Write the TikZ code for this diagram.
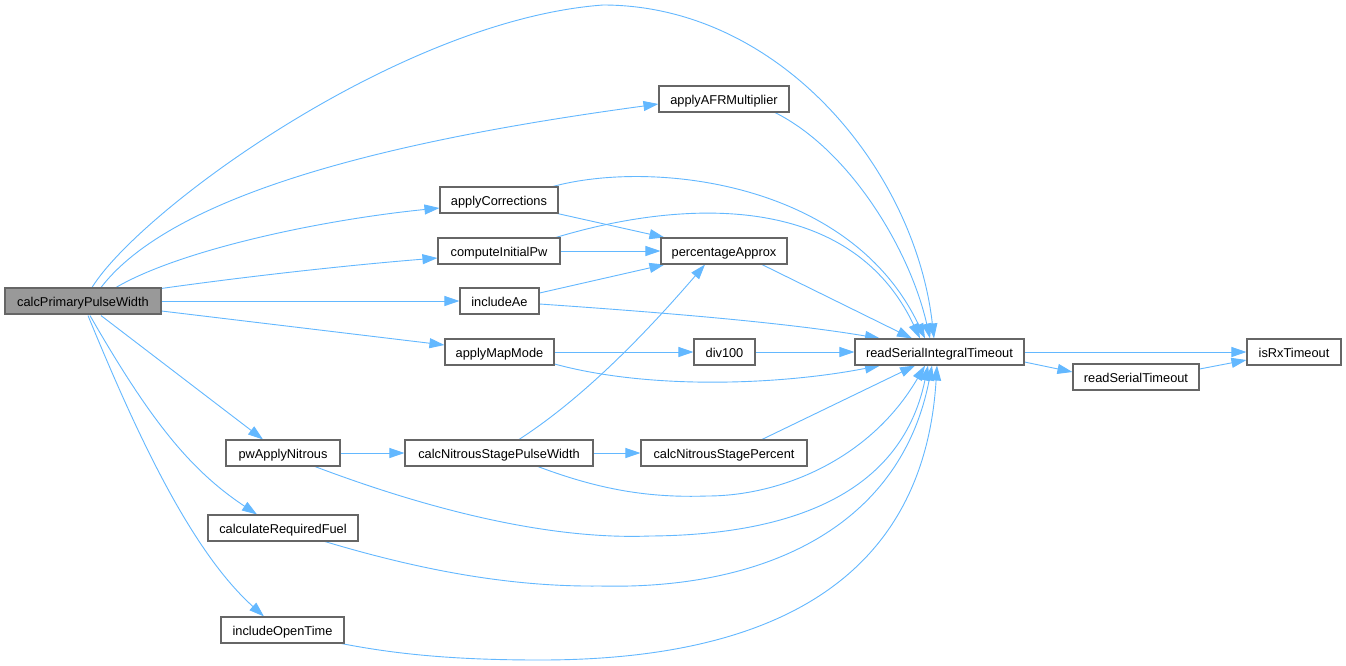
\documentclass[tikz,border=0pt]{standalone}
\usepackage{fontspec}
\setmainfont{Liberation Sans}
\usetikzlibrary{arrows.meta,calc}
\pgfdeclarelayer{bg}
\pgfsetlayers{bg,main}
\definecolor{edgec}{HTML}{63B8FF}
\definecolor{bordc}{HTML}{666666}
\definecolor{rootc}{HTML}{999999}
\begin{document}
\begin{tikzpicture}[x=1pt,y=-1pt,
  fn/.style={draw=bordc,fill=white,line width=1.1pt,minimum height=26pt,inner sep=0pt,text height=11pt,text depth=0pt,font=\fontsize{12.8}{15}\selectfont},
  call/.style={draw=edgec,line width=0.9pt,-{Triangle[length=15pt,width=10pt]}}]
\useasboundingbox (0,0) rectangle (1346,665);
% nodes
\node[fn,minimum width=156pt,fill=rootc] (cppw) at (83,301) {calcPrimaryPulseWidth};
\node[fn,minimum width=130pt] (afr) at (724,99) {applyAFRMultiplier};
\node[fn,minimum width=118pt] (corr) at (499,200) {applyCorrections};
\node[fn,minimum width=122pt] (cipw) at (499,251) {computeInitialPw};
\node[fn,minimum width=126pt] (pa) at (724,251) {percentageApprox};
\node[fn,minimum width=79pt] (ae) at (499.5,301) {includeAe};
\node[fn,minimum width=109pt] (amm) at (499.5,352) {applyMapMode};
\node[fn,minimum width=61pt] (div) at (724.5,352) {div100};
\node[fn,minimum width=169pt] (rsit) at (939.5,352) {readSerialIntegralTimeout};
\node[fn,minimum width=94pt] (isrx) at (1294,352) {isRxTimeout};
\node[fn,minimum width=126pt] (rst) at (1136,377) {readSerialTimeout};
\node[fn,minimum width=114pt] (pwan) at (283,453) {pwApplyNitrous};
\node[fn,minimum width=188pt] (cnspw) at (499,453) {calcNitrousStagePulseWidth};
\node[fn,minimum width=166pt] (cnsp) at (724,453) {calcNitrousStagePercent};
\node[fn,minimum width=150pt] (crf) at (283,528) {calculateRequiredFuel};
\node[fn,minimum width=123pt] (iot) at (282.5,630) {includeOpenTime};
% edges
\begin{pgfonlayer}{bg}
\fill[white] (0,0) rectangle (1346,665);
% from calcPrimaryPulseWidth
\draw[call] ($(cppw.north)+(9,0)$) .. controls (140,210) and (400,20) .. (603,5)
  .. controls (780,5) and (915,170) .. ($(rsit.north)+(-5.5,0)$);
\draw[call] ($(cppw.north)+(18,0)$) .. controls (180,185) and (430,135) .. ($(afr.west)+(0,5)$);
\draw[call] ($(cppw.north)+(33,0)$) .. controls (180,250) and (320,220) .. ($(corr.west)+(0,8)$);
\draw[call] ($(cppw.north east)+(0,1)$) .. controls (250,276) and (350,265) .. ($(cipw.west)+(0,7)$);
\draw[call] (cppw.east) -- (ae.west);
\draw[call] ($(cppw.east)+(0,10)$) -- ($(amm.west)+(0,-7)$);
\draw[call] ($(cppw.south)+(18,1)$) -- ($(pwan.north)+(-20,0)$);
\draw[call] ($(cppw.south)+(7,1)$) .. controls (150,420) and (190,470) .. ($(crf.north)+(-26,0)$);
\draw[call] ($(cppw.south)+(5,1)$) .. controls (135,430) and (190,550) .. ($(iot.north)+(-18.5,0)$);
% second column
\draw[call] ($(afr.south)+(51,0)$) .. controls (850,150) and (910,250) .. ($(rsit.north)+(-9.5,0)$);
\draw[call] ($(corr.north)+(54,0)$) .. controls (650,160) and (850,180) .. ($(rsit.north)+(-14.5,0)$);
\draw[call] ($(corr.south east)+(-1,0)$) -- ($(pa.north west)+(4,0)$);
\draw[call] ($(cipw.north)+(57,0)$) .. controls (680,200) and (850,190) .. ($(rsit.north)+(-19.5,0)$);
\draw[call] (cipw.east) -- (pa.west);
\draw[call] ($(ae.east)+(0,-8)$) -- ($(pa.south west)+(4,0)$);
\draw[call] ($(ae.east)+(0,3)$) .. controls (700,315) and (800,325) .. ($(rsit.north)+(-59.5,0)$);
\draw[call] ($(pa.south)+(38,0)$) -- ($(rsit.north)+(-27.5,0)$);
\draw[call] (amm.east) -- (div.west);
\draw[call] ($(amm.east)+(0,12)$) .. controls (650,390) and (780,385) .. ($(rsit.south)+(-59.5,0)$);
\draw[call] (div.east) -- (rsit.west);
\draw[call] (rsit.east) -- (isrx.west);
\draw[call] ($(rsit.east)+(0,10)$) -- ($(rst.west)+(0,-5)$);
\draw[call] ($(rst.east)+(0,-8)$) -- ($(isrx.west)+(0,8)$);
% nitrous
\draw[call] (pwan.east) -- (cnspw.west);
\draw[call] ($(pwan.south)+(32,0)$) .. controls (430,510) and (550,540) .. (650,536)
  .. controls (780,535) and (900,500) .. ($(rsit.south)+(-11.5,0)$);
\draw[call] ($(cnspw.north)+(20,0)$) .. controls (580,400) and (640,340) .. ($(pa.south)+(-19,0)$);
\draw[call] (cnspw.east) -- (cnsp.west);
\draw[call] ($(cnspw.south)+(39,0)$) .. controls (600,490) and (650,498) .. (707,496)
  .. controls (780,496) and (870,460) .. ($(rsit.south)+(-14.5,0)$);
\draw[call] ($(cnsp.north)+(38,0)$) -- ($(rsit.south)+(-24.5,0)$);
\draw[call] ($(crf.south)+(42,0)$) .. controls (420,570) and (510,587) .. (600,586)
  .. controls (760,590) and (900,530) .. ($(rsit.south)+(-7.5,0)$);
\draw[call] ($(iot.south)+(59,0)$) .. controls (400,655) and (460,660) .. (540,660)
  .. controls (800,660) and (925,560) .. ($(rsit.south)+(-2.5,0)$);
\end{pgfonlayer}
\end{tikzpicture}
\end{document}
